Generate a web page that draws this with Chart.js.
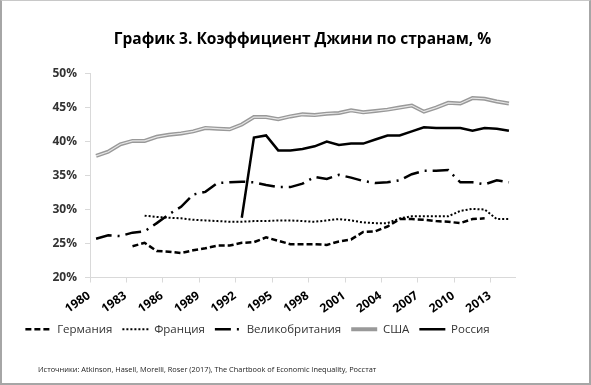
<!DOCTYPE html>
<html>
<head>
<meta charset="utf-8">
<script src="https://cdn.jsdelivr.net/npm/chart.js@4.4.1/dist/chart.umd.min.js"></script>
<style>
  html, body { margin: 0; padding: 0; background: #fff; }
  #wrap { position: relative; width: 591px; height: 385px; }
  #frame { position: absolute; left: 0; top: 0; width: 591px; height: 385px; box-sizing: border-box;
    border: 2px solid #a6a6a6; border-top: 1px solid #c8c8c8; pointer-events: none; }
  #source { position: absolute; left: 38px; top: 364px; font: 7.4px "Open Sans", sans-serif; color: #222; white-space: nowrap; }
</style>
</head>
<body>
<div id="wrap">
  <canvas id="chart" width="591" height="385"></canvas>
  <div id="source">Источники: Atkinson, Hasell, Morelli, Roser (2017), The Chartbook of Economic Inequality, Росстат</div>
  <div id="frame"></div>
</div>
<script>
// годы
const years = [];
for (let y = 1980; y <= 2014; y++) years.push(String(y));

const germany = [null, null, null, 24.6, 25.1, 23.9, 23.8, 23.6, 24.0, 24.3,
  24.7, 24.7, 25.1, 25.2, 25.9, 25.4, 24.9, 24.9, 24.9, 24.8,
  25.3, 25.6, 26.7, 26.8, 27.5, 28.6, 28.6, 28.5, 28.3, 28.2,
  28.0, 28.6, 28.7, null, null];
const france = [null, null, null, null, 29.1, 28.9, 28.8, 28.7, 28.5, 28.4,
  28.3, 28.2, 28.2, 28.3, 28.3, 28.4, 28.4, 28.3, 28.2, 28.4,
  28.6, 28.4, 28.1, 28.0, 28.0, 28.7, 29.0, 29.0, 29.0, 29.0,
  29.8, 30.1, 30.0, 28.6, 28.6];
const uk = [25.7, 26.2, 26.1, 26.6, 26.8, 28.0, 29.3, 30.4, 32.2, 32.6,
  33.9, 34.0, 34.1, 34.0, 33.6, 33.3, 33.3, 33.8, 34.8, 34.5,
  35.1, 34.7, 34.2, 33.9, 34.0, 34.3, 35.2, 35.7, 35.7, 35.8,
  34.0, 34.0, 33.7, 34.3, 34.0];
const usa = [37.9, 38.5, 39.6, 40.1, 40.1, 40.7, 41.0, 41.2, 41.5, 42.0,
  41.9, 41.8, 42.5, 43.6, 43.6, 43.3, 43.7, 44.0, 43.9, 44.1,
  44.2, 44.6, 44.3, 44.5, 44.7, 45.0, 45.3, 44.4, 45.0, 45.7,
  45.6, 46.4, 46.3, 45.9, 45.6];
const russia = [null, null, null, null, null, null, null, null, null, null,
  null, null, 28.8, 40.6, 40.9, 38.7, 38.7, 38.9, 39.3, 40.0,
  39.5, 39.7, 39.7, 40.3, 40.9, 40.9, 41.5, 42.1, 42.0, 42.0,
  42.0, 41.6, 42.0, 41.9, 41.6];

const font = '"Open Sans", sans-serif';
const axisGray = '#d9d9d9';

function line(label, data, color, width, dash, order) {
  return {
    label: label, data: data, borderColor: color, backgroundColor: color,
    borderWidth: width, borderDash: dash, pointRadius: 0, tension: 0,
    fill: false, spanGaps: false, order: order
  };
}

new Chart(document.getElementById('chart'), {
  type: 'line',
  data: {
    labels: years,
    datasets: [
      line('Германия', germany, '#000', 2.5, [6, 3], 1),
      line('Франция', france, '#000', 2, [2, 2], 1),
      line('Великобритания', uk, '#000', 2.5, [16, 6, 2, 6], 1),
      line('США', usa, '#999', 4, [], 1),
      line('Россия', russia, '#000', 2.5, [], 1),
      // светлая середина двойной линии США
      line('', usa, '#e6e6e6', 1.2, [], 0)
    ]
  },
  options: {
    responsive: false,
    animation: false,
    layout: { padding: { left: 0, right: 76, top: 0, bottom: 40 } },
    plugins: {
      title: {
        display: true,
        text: 'График 3. Коэффициент Джини по странам, %',
        fullSize: false,
        color: '#000',
        font: { family: font, size: 15.5, weight: 'bold' },
        padding: { top: 30, bottom: 25 }
      },
      legend: {
        position: 'bottom',
        labels: {
          generateLabels: (chart) => {
            const items = Chart.defaults.plugins.legend.labels.generateLabels(chart);
            items.forEach((it) => {
              const ds = chart.data.datasets[it.datasetIndex];
              it.lineDash = ds.borderDash;
              it.lineWidth = ds.borderWidth;
              it.strokeStyle = ds.borderColor;
            });
            return items;
          },
          filter: (item) => item.text !== '',
          usePointStyle: true,
          pointStyle: 'line',
          pointStyleWidth: 26,
          color: '#333',
          padding: 10,
          font: { family: font, size: 11.5 }
        }
      },
      tooltip: { enabled: false }
    },
    scales: {
      x: {
        offset: true,
        border: { color: axisGray },
        grid: {
          offset: true,
          drawOnChartArea: false,
          tickLength: 5,
          color: (c) => (c.index % 3 === 0 ? axisGray : 'rgba(0,0,0,0)')
        },
        ticks: {
          autoSkip: false,
          maxRotation: 35,
          minRotation: 35,
          padding: 6,
          labelOffset: -7,
          color: '#000',
          font: { family: font, size: 12, weight: 'bold' },
          callback: function (v, i) { return i % 3 === 0 ? years[i] : ''; }
        },
        afterFit: (s) => { s.height = 36; }
      },
      y: {
        min: 20,
        max: 50,
        border: { color: axisGray },
        grid: { drawOnChartArea: false, tickLength: 5, color: axisGray },
        ticks: {
          stepSize: 5,
          padding: 8,
          color: '#333',
          font: { family: font, size: 12, weight: 'bold' },
          callback: (v) => v + '%'
        },
        afterFit: (s) => { s.width = 90; }
      }
    }
  }
});
</script>
</body>
</html>
